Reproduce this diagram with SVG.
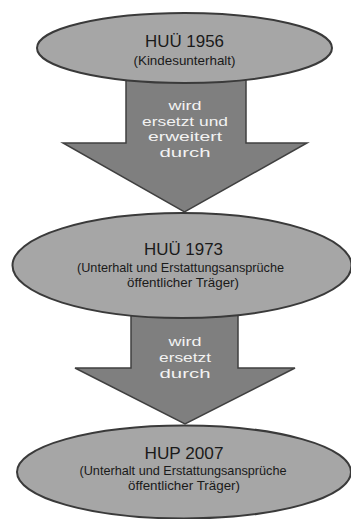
<svg xmlns="http://www.w3.org/2000/svg" width="351" height="519" viewBox="0 0 351 519">
<style>
.node{fill:#a6a6a6;stroke:#3a3a3a;stroke-width:2}
.arrow{fill:#7f7f7f;stroke:#404040;stroke-width:1.5;stroke-linejoin:miter}
text{font-family:"Liberation Sans",Arial,sans-serif;text-anchor:middle}
.t{font-size:17px;fill:#1a1a1a}
.s{font-size:13px;fill:#1a1a1a}
.a{font-size:13.5px;fill:#f2f2f2}
</style>
<rect width="351" height="519" fill="#ffffff"/>
<g id="connectors">
<g id="arrow1">
<polygon class="arrow" points="126,75 246,75 246,143 307,143 184.5,212 63,143 126,143"/>
<text class="a" x="185" y="110" textLength="33" lengthAdjust="spacingAndGlyphs">wird</text>
<text class="a" x="185" y="125.5" textLength="86" lengthAdjust="spacingAndGlyphs">ersetzt und</text>
<text class="a" x="185" y="141" textLength="74" lengthAdjust="spacingAndGlyphs">erweitert</text>
<text class="a" x="185" y="156.5" textLength="51" lengthAdjust="spacingAndGlyphs">durch</text>
</g>
<g id="arrow2">
<polygon class="arrow" points="131,305 238,305 238,368 295,368 185,424 75,368 131,368"/>
<text class="a" x="185" y="345.5" textLength="33" lengthAdjust="spacingAndGlyphs">wird</text>
<text class="a" x="185" y="361.5" textLength="52" lengthAdjust="spacingAndGlyphs">ersetzt</text>
<text class="a" x="185" y="377.5" textLength="51" lengthAdjust="spacingAndGlyphs">durch</text>
</g>
</g>
<g id="node1">
<ellipse class="node" cx="184.5" cy="48" rx="147.5" ry="35"/>
<text class="t" x="184.5" y="47" textLength="79" lengthAdjust="spacingAndGlyphs">HUÜ 1956</text>
<text class="s" x="184.5" y="65" textLength="102" lengthAdjust="spacingAndGlyphs">(Kindesunterhalt)</text>
</g>
<g id="node2">
<ellipse class="node" cx="182" cy="265.5" rx="169.5" ry="52.5"/>
<text class="t" x="183.5" y="255" textLength="79" lengthAdjust="spacingAndGlyphs">HUÜ 1973</text>
<text class="s" x="180.5" y="272" textLength="207" lengthAdjust="spacingAndGlyphs">(Unterhalt und Erstattungsansprüche</text>
<text class="s" x="183" y="287" textLength="112" lengthAdjust="spacingAndGlyphs">öffentlicher Träger)</text>
</g>
<g id="node3">
<ellipse class="node" cx="184" cy="472" rx="167" ry="46.5"/>
<text class="t" x="184" y="458.5" textLength="79" lengthAdjust="spacingAndGlyphs">HUP 2007</text>
<text class="s" x="183" y="474.5" textLength="207" lengthAdjust="spacingAndGlyphs">(Unterhalt und Erstattungsansprüche</text>
<text class="s" x="184" y="489.5" textLength="112" lengthAdjust="spacingAndGlyphs">öffentlicher Träger)</text>
</g>
</svg>
